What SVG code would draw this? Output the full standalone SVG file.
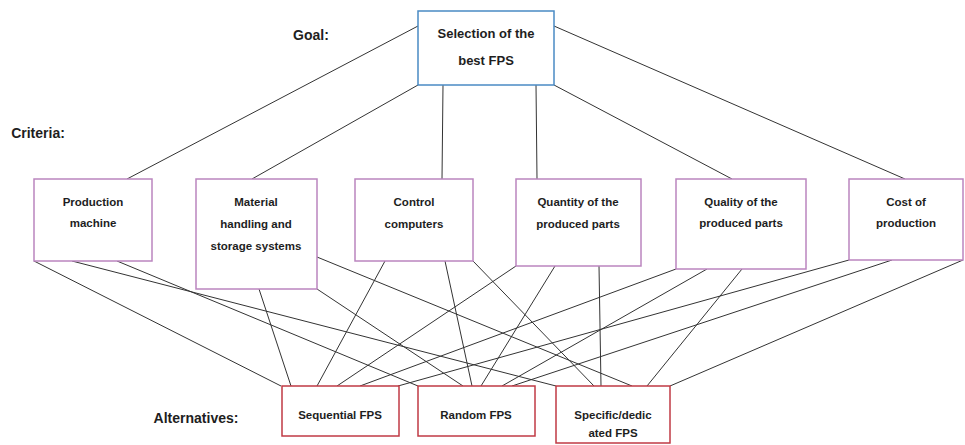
<svg xmlns="http://www.w3.org/2000/svg" width="965" height="445" viewBox="0 0 965 445">
<style>
text{font-family:"Liberation Sans",Arial,sans-serif;font-weight:bold;fill:#1e1e1e;text-anchor:middle}
.lbl{font-size:14px}
.g{font-size:13px}
.c{font-size:11.5px}
.goal{fill:#fff;stroke:#4a8ac4;stroke-width:1.5}
.crit{fill:#fff;stroke:#bb85bf;stroke-width:1.5}
.alt{fill:#fff;stroke:#c03a44;stroke-width:1.5}
#connectors line{stroke:#333;stroke-width:1}
</style>
<rect width="965" height="445" fill="#fff"/>
<g id="labels">
<text class="lbl" x="311" y="40">Goal:</text>
<text class="lbl" x="38" y="138">Criteria:</text>
<text class="lbl" x="196" y="423">Alternatives:</text>
</g>
<g id="connectors">
<line x1="418" y1="26" x2="127" y2="179"/>
<line x1="418" y1="85" x2="252" y2="179"/>
<line x1="443" y1="85" x2="442" y2="179"/>
<line x1="536" y1="85" x2="537" y2="179"/>
<line x1="554" y1="85" x2="732" y2="179"/>
<line x1="554" y1="26" x2="905" y2="179"/>
<line x1="34" y1="261" x2="281" y2="386"/>
<line x1="117" y1="261" x2="418" y2="386"/>
<line x1="72" y1="261" x2="556" y2="386"/>
<line x1="259" y1="289" x2="291" y2="386"/>
<line x1="317" y1="289" x2="463" y2="386"/>
<line x1="317" y1="257" x2="632" y2="386"/>
<line x1="385" y1="261" x2="317" y2="386"/>
<line x1="445" y1="261" x2="472" y2="386"/>
<line x1="473" y1="261" x2="594" y2="386"/>
<line x1="516" y1="266" x2="337" y2="386"/>
<line x1="555" y1="266" x2="481" y2="386"/>
<line x1="599" y1="266" x2="601" y2="386"/>
<line x1="676" y1="269" x2="360" y2="386"/>
<line x1="707" y1="269" x2="502" y2="386"/>
<line x1="742" y1="269" x2="647" y2="386"/>
<line x1="849" y1="260" x2="398" y2="386"/>
<line x1="892" y1="260" x2="512" y2="386"/>
<line x1="963" y1="260" x2="670" y2="386"/>
</g>
<g id="goal">
<rect class="goal" x="418" y="11" width="136" height="74"/>
<text class="g" x="486" y="38">Selection of the</text>
<text class="g" x="486" y="65">best FPS</text>
</g>
<g id="c-production">
<rect class="crit" x="34" y="179" width="118" height="82"/>
<text class="c" x="93" y="206">Production</text>
<text class="c" x="93" y="227">machine</text>
</g>
<g id="c-material">
<rect class="crit" x="196" y="179" width="121" height="110"/>
<text class="c" x="256" y="206">Material</text>
<text class="c" x="256" y="228">handling and</text>
<text class="c" x="256" y="250">storage systems</text>
</g>
<g id="c-control">
<rect class="crit" x="355" y="179" width="118" height="82"/>
<text class="c" x="414" y="206">Control</text>
<text class="c" x="414" y="228">computers</text>
</g>
<g id="c-quantity">
<rect class="crit" x="516" y="179" width="125" height="87"/>
<text class="c" x="578" y="206">Quantity of the</text>
<text class="c" x="578" y="228">produced parts</text>
</g>
<g id="c-quality">
<rect class="crit" x="676" y="179" width="130" height="90"/>
<text class="c" x="741" y="206">Quality of the</text>
<text class="c" x="741" y="227">produced parts</text>
</g>
<g id="c-cost">
<rect class="crit" x="849" y="179" width="114" height="81"/>
<text class="c" x="906" y="206">Cost of</text>
<text class="c" x="906" y="227">production</text>
</g>
<g id="a-sequential">
<rect class="alt" x="282" y="386" width="117" height="50"/>
<text class="c" x="340" y="419">Sequential FPS</text>
</g>
<g id="a-random">
<rect class="alt" x="418" y="386" width="117" height="50"/>
<text class="c" x="476" y="419">Random FPS</text>
</g>
<g id="a-specific">
<rect class="alt" x="556" y="386" width="114" height="57"/>
<text class="c" x="613" y="419">Specific/dedic</text>
<text class="c" x="613" y="437">ated FPS</text>
</g>
</svg>
